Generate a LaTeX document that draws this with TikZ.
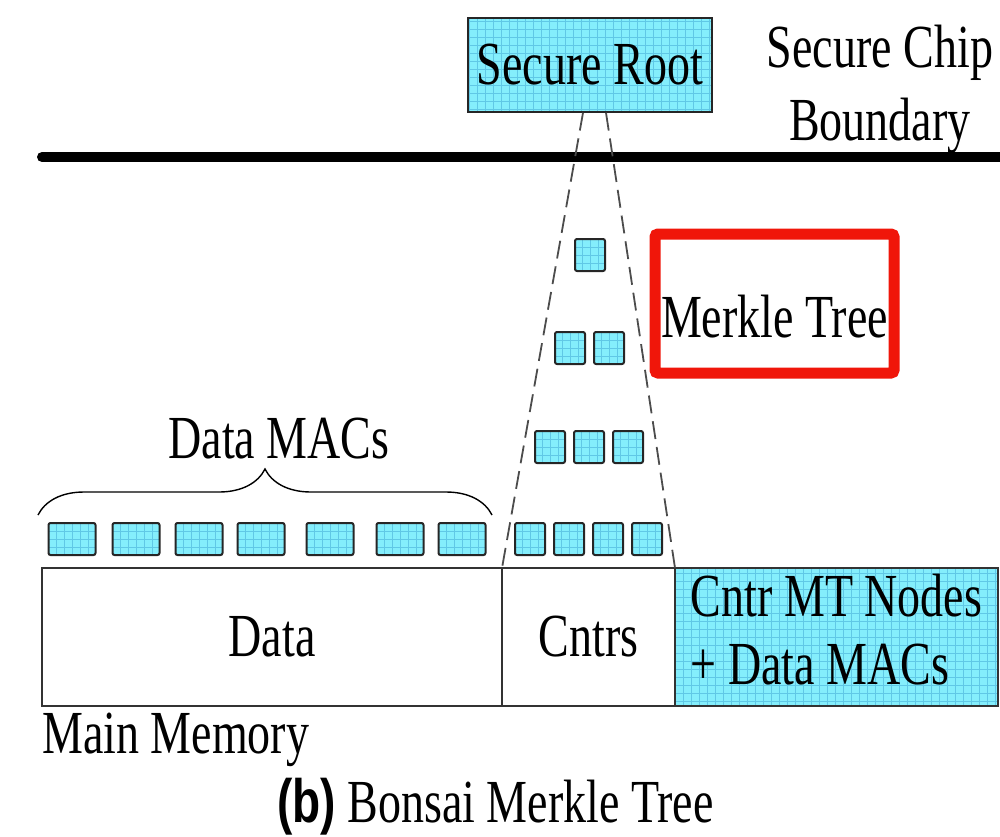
\documentclass[tikz,border=0pt]{standalone}
\usepackage{fontspec}
\setmainfont{Liberation Serif}
\newfontfamily\capsans{Liberation Sans}
\usepackage{graphicx}
\usetikzlibrary{positioning, calc, decorations.pathreplacing}

\definecolor{cellcyan}{RGB}{132,238,252}
\definecolor{cellgrid}{RGB}{96,200,230}
\definecolor{boxred}{RGB}{240,22,10}
\newcommand{\tall}[1]{\scalebox{1}[1.33]{#1}}

\begin{document}
\begin{tikzpicture}[
    x=1pt, y=-1pt,
    txt/.style={inner sep=0pt, font=\fontsize{46}{55}\selectfont},
    gridfill/.style={fill=cellcyan, path picture={\draw[cellgrid, line width=0.6pt, step=8pt] (path picture bounding box.south west) grid (path picture bounding box.north east);}},
    cell/.style={draw=black!85, line width=2pt, gridfill, rounded corners=2pt, minimum width=#1, minimum height=32pt, inner sep=0pt},
    cell/.default=30pt,
    mem/.style={draw=black!80, line width=1.2pt, minimum height=138pt, inner sep=0pt, outer sep=0pt, font=\fontsize{46}{51}\selectfont},
    cone/.style={draw=black!70, line width=1.8pt, dash pattern=on 18pt off 8pt},
]
\useasboundingbox (0,0) rectangle (1000,836);

% on-chip part
\node[txt, draw=black!85, line width=1.5pt, gridfill, minimum width=244pt, minimum height=94pt] (root) at (590,65) {\tall{Secure Root}};
\node[txt] (chip) at (880,89) {\tall{\begin{tabular}{@{}c@{}}Secure Chip\\Boundary\end{tabular}}};
\coordinate (edge-l) at (42,157);
\coordinate (edge-r) at (1004,157);
\draw[line width=10pt, line cap=round] (edge-l) -- (edge-r);

% main memory
\node[mem, minimum width=460pt, anchor=north west] (data) at (42,568) {\tall{Data}};
\node[mem, minimum width=173pt, right=0pt of data] (cntrs) {\tall{Cntrs}};
\node[mem, gridfill, minimum width=323pt, right=0pt of cntrs] (cmt) {\tall{\begin{tabular}{@{}l@{}}Cntr MT Nodes\\+ Data MACs\end{tabular}}};
\node[txt, anchor=base west] (mainmem) at (42,753) {\tall{Main Memory}};

% counter tree
\foreach \x [count=\i] in {530,569,608,647} \node[cell] (lv4-\i) at (\x,539) {};
\foreach \x [count=\i] in {550,589,628} \node[cell] (lv3-\i) at (\x,447) {};
\foreach \x [count=\i] in {570,609} \node[cell] (lv2-\i) at (\x,348) {};
\node[cell] (lv1) at (590,255) {};
\draw[cone] ($(root.south)+(-7,0)$) -- (cntrs.north west);
\draw[cone] ($(root.south)+(16,0)$) -- (cntrs.north east);
\node[txt, draw=boxred, line width=11pt, rounded corners=3pt, minimum width=239pt, minimum height=139pt, text height=67pt, text depth=0pt] (mtree) at (774.5,303.5) {\tall{Merkle Tree}};

% data MACs
\foreach \x [count=\i] in {72,136,199,261,330,400,462} \node[cell=47pt] (mac\i) at (\x,539) {};
\coordinate (br-l) at (38,515);
\coordinate (br-r) at (492,515);
\draw[decorate, decoration={brace, amplitude=46pt}, line width=1.4pt] (br-l) -- (br-r);
\node[txt, anchor=base] (maclabel) at (279,458) {\tall{Data MACs}};

\node[txt, anchor=base west] (caption) at (277,822) {\tall{{\capsans\bfseries (b)} Bonsai Merkle Tree}};
\end{tikzpicture}
\end{document}
